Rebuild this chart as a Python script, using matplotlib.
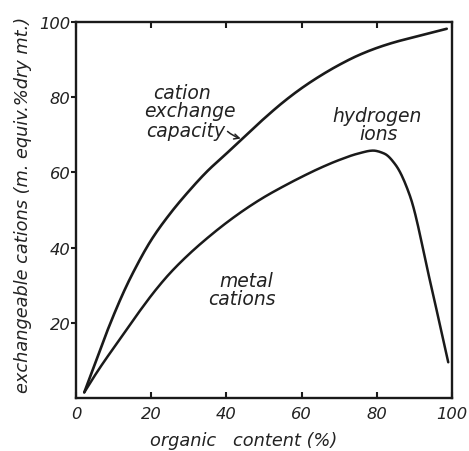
import matplotlib
matplotlib.use("Agg")
import matplotlib.pyplot as plt
import numpy as np

# Data
cec_x = [2.2, 5, 8.5, 12.5, 15, 20, 25, 30, 35, 40, 45, 50, 55, 60, 65, 70, 75, 80, 85, 90, 98.6]
cec_y = [1.5, 9, 18.3, 27.8, 33, 42, 49, 55, 60.4, 65, 69.7, 74.3, 78.6, 82.4, 85.7, 88.6, 91.1, 93.1, 94.7, 96, 98.2]

metal_x = [2.2, 4.5, 7, 10, 13.5, 17, 21, 25, 30, 35, 40, 45, 50, 55, 60, 65, 70, 75, 79, 82, 85, 88.8, 94, 99]
metal_y = [1.5, 5.2, 9, 13.3, 18.3, 23.2, 28.5, 33.2, 38.2, 42.6, 46.6, 50.2, 53.4, 56.2, 58.8, 61.2, 63.3, 65.0, 65.8, 65.0, 62.0, 53.8, 31.8, 9.5]

x_ticks = [0, 20, 40, 60, 80, 100]
y_ticks = [20, 40, 60, 80, 100]

xlabel = "organic   content (%)"
ylabel = "exchangeable cations (m. equiv.%dry mt.)"

plt.rcParams['font.family'] = ['DejaVu Sans']
INK = '#1a1a1a'
TXT = '#222222'

fig = plt.figure(figsize=(4.69, 4.52), dpi=100)
ax = fig.add_axes([76/469, 1-399/452, (452-76)/469, (399-23)/452])

def pchip(xs, ys, n=400):
    xs = np.asarray(xs, float); ys = np.asarray(ys, float)
    h = np.diff(xs); d = np.diff(ys) / h
    m = np.zeros_like(xs)
    for i in range(1, len(xs) - 1):
        if d[i-1] * d[i] > 0:
            w1 = 2*h[i] + h[i-1]; w2 = h[i] + 2*h[i-1]
            m[i] = (w1 + w2) / (w1/d[i-1] + w2/d[i])
    m[0] = d[0]; m[-1] = d[-1]
    xx = np.linspace(xs[0], xs[-1], n)
    idx = np.clip(np.searchsorted(xs, xx) - 1, 0, len(xs) - 2)
    t = (xx - xs[idx]) / h[idx]
    h00 = 2*t**3 - 3*t**2 + 1; h10 = t**3 - 2*t**2 + t
    h01 = -2*t**3 + 3*t**2; h11 = t**3 - t**2
    yy = h00*ys[idx] + h10*h[idx]*m[idx] + h01*ys[idx+1] + h11*h[idx]*m[idx+1]
    return xx, yy

ax.plot(*pchip(cec_x, cec_y), color=INK, lw=1.9, solid_capstyle='round')
ax.plot(*pchip(metal_x, metal_y), color=INK, lw=1.8, solid_capstyle='round')

ax.set_xlim(0, 100)
ax.set_ylim(0, 100)
ax.set_xticks(x_ticks)
ax.set_yticks(y_ticks)
ax.set_xticklabels([str(v) for v in x_ticks], fontsize=11.8, style='italic', color=TXT)
ax.set_yticklabels([str(v) for v in y_ticks], fontsize=11.8, style='italic', color=TXT)
ax.tick_params(axis='x', which='both', direction='in', length=4.5, width=1.5, top=True, pad=6, color=INK)
ax.tick_params(axis='y', direction='out', length=3.5, width=1.5, pad=0.5, color=INK)
for s in ax.spines.values():
    s.set_linewidth(1.7)
    s.set_color(INK)

ax.set_xlabel(xlabel, fontsize=12.8, style='italic', color=TXT)
ax.xaxis.set_label_coords(0.447, -0.088)
ax.set_ylabel(ylabel, fontsize=12.8, style='italic', color=TXT)
ax.yaxis.set_label_coords(-0.118, 0.515)

tk = dict(fontsize=13.5, style='italic', color=TXT, ha='center', va='baseline')
ax.text(28.1, 79.9, "cation", **tk)
ax.text(30.3, 75.1, "exchange", **tk)
ax.text(29.2, 69.8, "capacity", **tk)
ax.annotate("", xy=(43.8, 69.0), xytext=(40.3, 70.9),
            arrowprops=dict(arrowstyle='->', color=TXT, lw=1.1,
                            shrinkA=0, shrinkB=0,
                            connectionstyle='arc3,rad=0.1', mutation_scale=9))
ax.text(80, 73.8, "hydrogen", **tk)
ax.text(80.5, 68.9, "ions", **tk)
ax.text(45.4, 29.7, "metal", **tk)
ax.text(44.1, 25.0, "cations", **tk)

fig.savefig("out.png", dpi=100)
